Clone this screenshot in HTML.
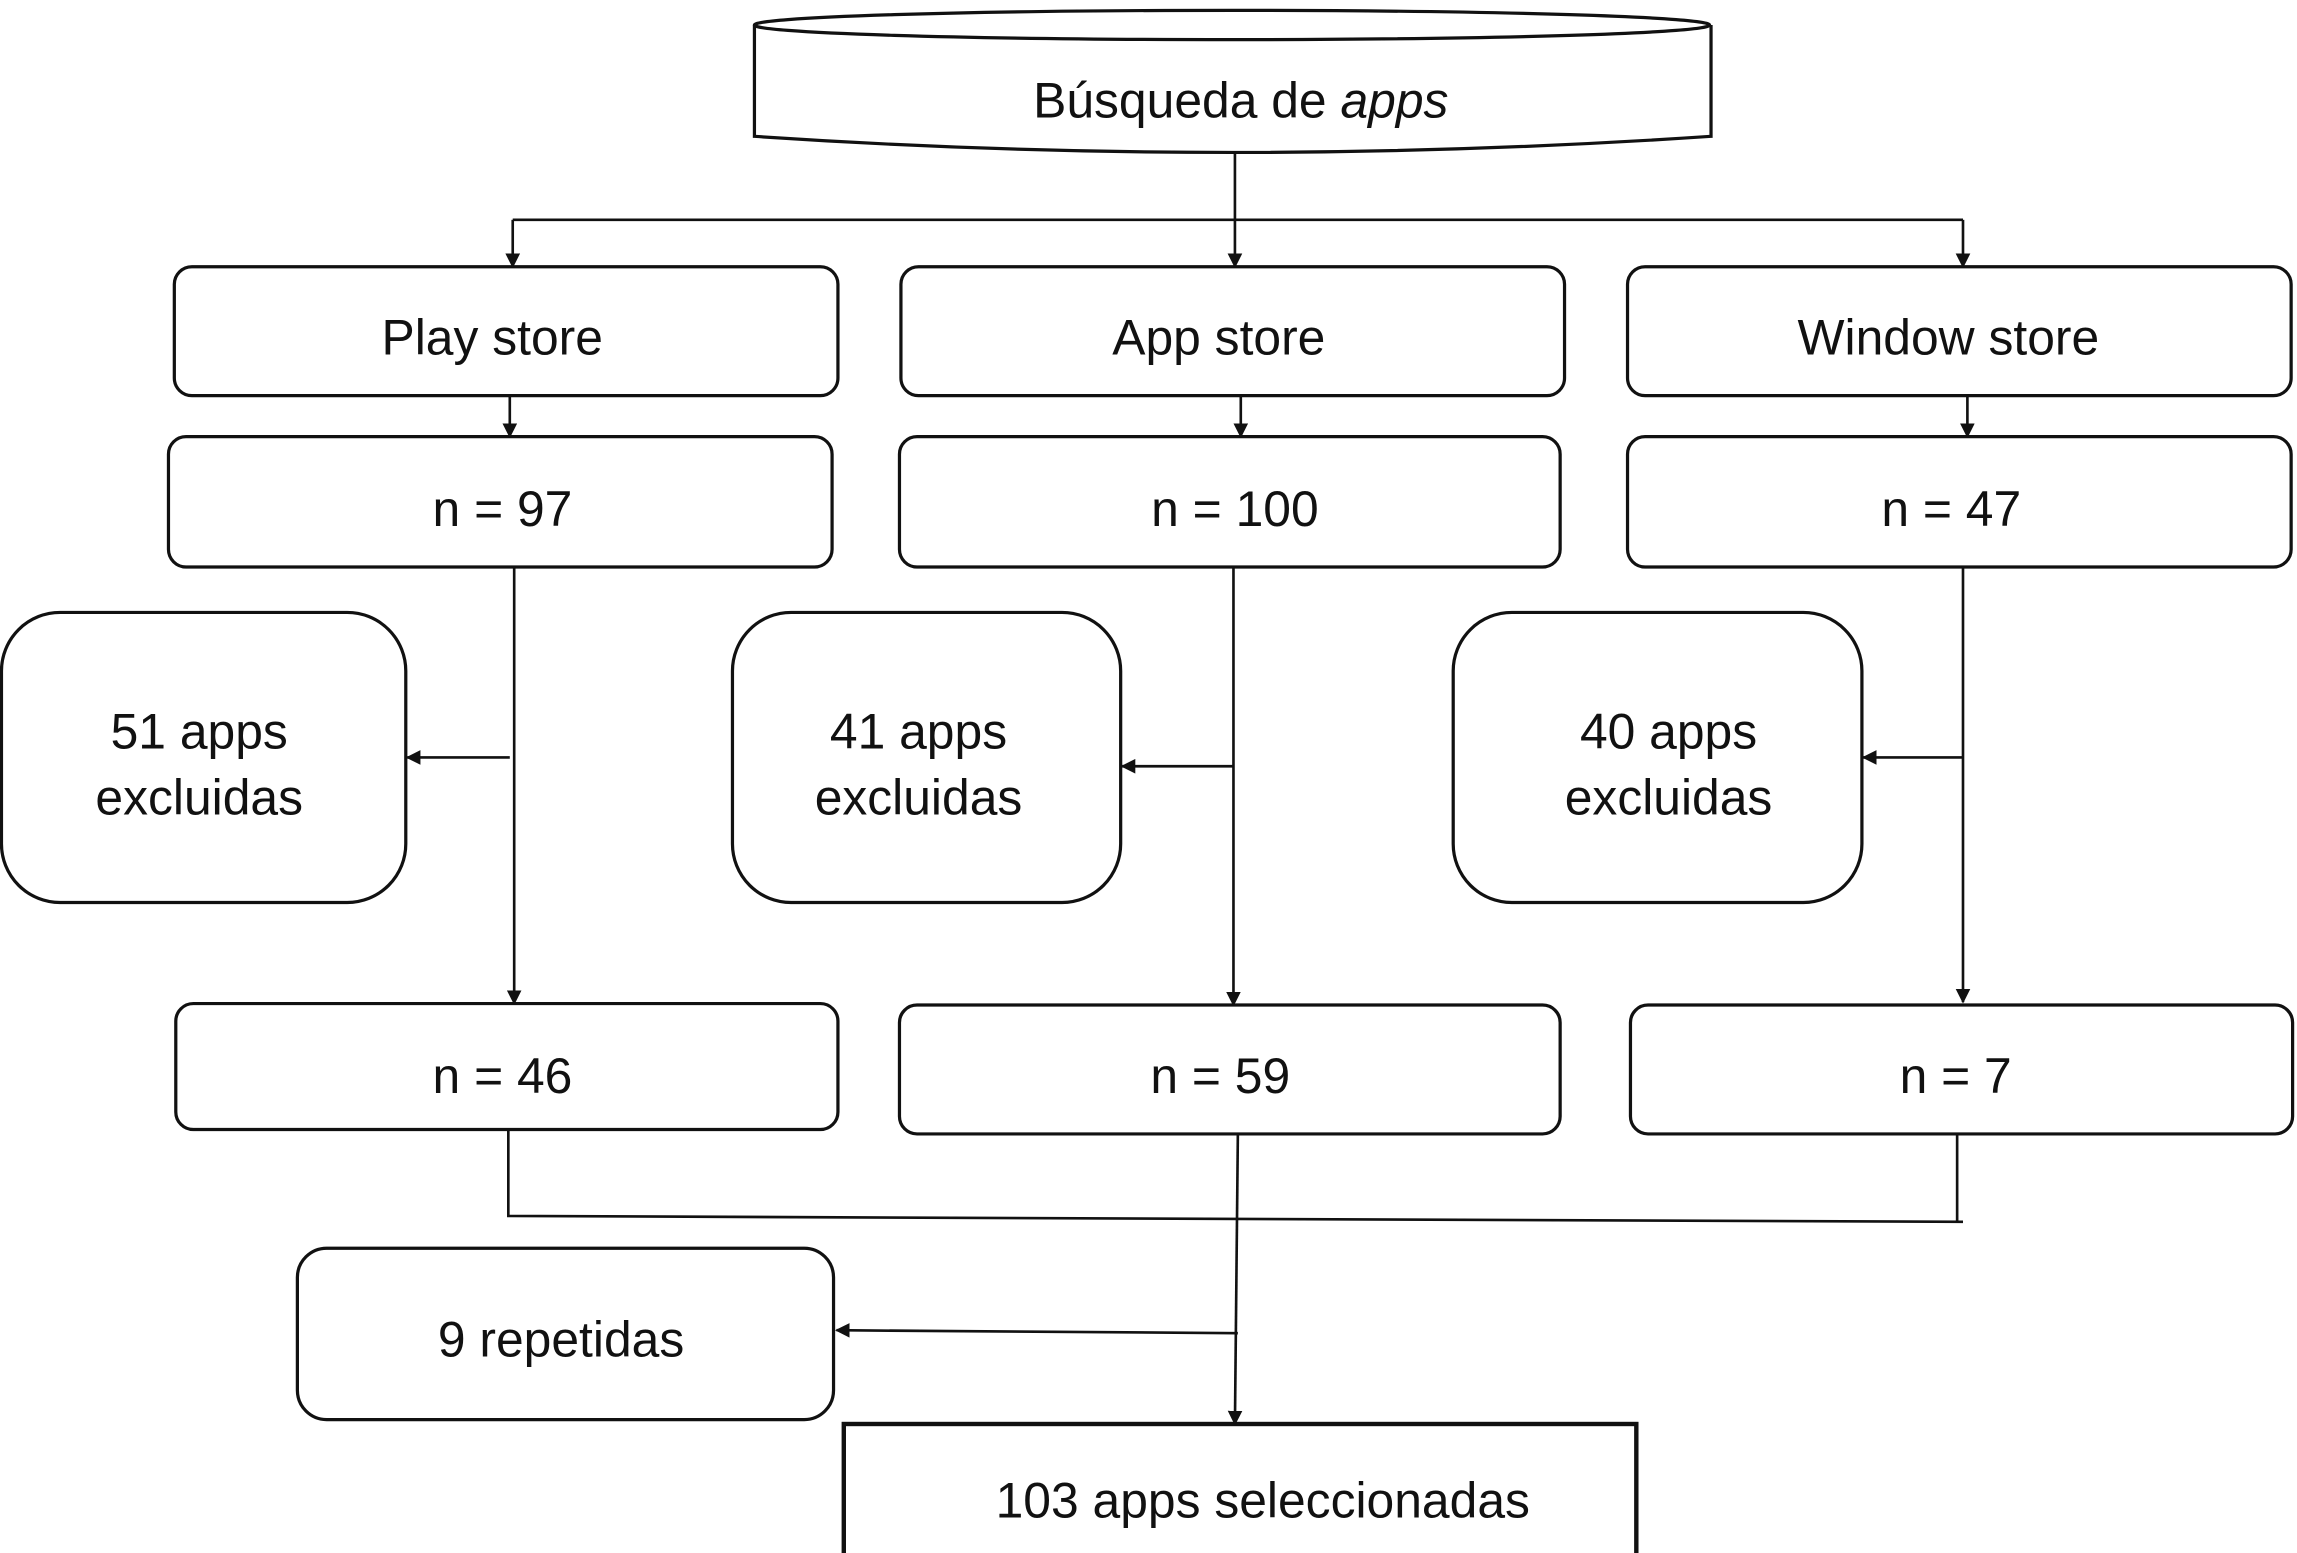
<!DOCTYPE html>
<html><head><meta charset="utf-8"><style>html,body{margin:0;padding:0;background:#fff}svg{display:block}</style></head>
<body>
<svg width="2297" height="1553" viewBox="0 0 1568 1060" xmlns="http://www.w3.org/2000/svg" font-family="Liberation Sans, sans-serif" font-size="34" fill="none" stroke="#111">
<defs><marker id="a" markerWidth="10" markerHeight="10" refX="9" refY="5" orient="auto" markerUnits="userSpaceOnUse"><path d="M0,0 L10,5 L0,10 z" fill="#111" stroke="none"/></marker></defs>
<g stroke-width="2.2">
<path d="M515,17 L515,93 Q841,115 1168,93 L1168,17"/>
<ellipse cx="841" cy="17" rx="326" ry="10"/>
<rect x="119" y="182" width="453" height="88" rx="12"/>
<rect x="615" y="182" width="453" height="88" rx="12"/>
<rect x="1111" y="182" width="453" height="88" rx="12"/>
<rect x="115" y="298" width="453" height="89" rx="12"/>
<rect x="614" y="298" width="451" height="89" rx="12"/>
<rect x="1111" y="298" width="453" height="89" rx="12"/>
<rect x="1" y="418" width="276" height="198" rx="40"/>
<rect x="500" y="418" width="265" height="198" rx="40"/>
<rect x="992" y="418" width="279" height="198" rx="40"/>
<rect x="120" y="685" width="452" height="86" rx="12"/>
<rect x="614" y="686" width="451" height="88" rx="12"/>
<rect x="1113" y="686" width="452" height="88" rx="12"/>
<rect x="203" y="852" width="366" height="117" rx="20"/>
<rect x="576" y="972" width="541" height="90" stroke-width="3"/>
</g>
<g stroke-width="1.8">
<line x1="843" y1="105" x2="843" y2="182" marker-end="url(#a)"/>
<line x1="350" y1="150" x2="1340" y2="150"/>
<line x1="350" y1="150" x2="350" y2="182" marker-end="url(#a)"/>
<line x1="1340" y1="150" x2="1340" y2="182" marker-end="url(#a)"/>
<line x1="348" y1="270" x2="348" y2="298" marker-end="url(#a)"/>
<line x1="847" y1="270" x2="847" y2="298" marker-end="url(#a)"/>
<line x1="1343" y1="270" x2="1343" y2="298" marker-end="url(#a)"/>
<line x1="351" y1="387" x2="351" y2="685" marker-end="url(#a)"/>
<line x1="842" y1="387" x2="842" y2="686" marker-end="url(#a)"/>
<line x1="1340" y1="387" x2="1340" y2="684" marker-end="url(#a)"/>
<line x1="348" y1="517" x2="278" y2="517" marker-end="url(#a)"/>
<line x1="842" y1="523" x2="766" y2="523" marker-end="url(#a)"/>
<line x1="1340" y1="517" x2="1272" y2="517" marker-end="url(#a)"/>
<polyline points="347,771 347,830 1340,834"/>
<line x1="1336" y1="774" x2="1336" y2="834"/>
<line x1="845" y1="774" x2="843" y2="972" marker-end="url(#a)"/>
<line x1="845" y1="910" x2="571" y2="908" marker-end="url(#a)"/>
</g>
<g fill="#111" stroke="none" text-anchor="middle">
<text x="847" y="80">Búsqueda de <tspan font-style="italic">apps</tspan></text>
<text x="336" y="242">Play store</text>
<text x="832" y="242">App store</text>
<text x="1330" y="242">Window store</text>
<text x="343" y="359">n = 97</text>
<text x="843" y="359">n = 100</text>
<text x="1332" y="359">n = 47</text>
<text x="136" y="511">51 apps</text><text x="136" y="556">excluidas</text>
<text x="627" y="511">41 apps</text><text x="627" y="556">excluidas</text>
<text x="1139" y="511">40 apps</text><text x="1139" y="556">excluidas</text>
<text x="343" y="746">n = 46</text>
<text x="833" y="746">n = 59</text>
<text x="1335" y="746">n = 7</text>
<text x="383" y="926">9 repetidas</text>
<text x="862" y="1036">103 apps seleccionadas</text>
</g>
</svg>
</body></html>
